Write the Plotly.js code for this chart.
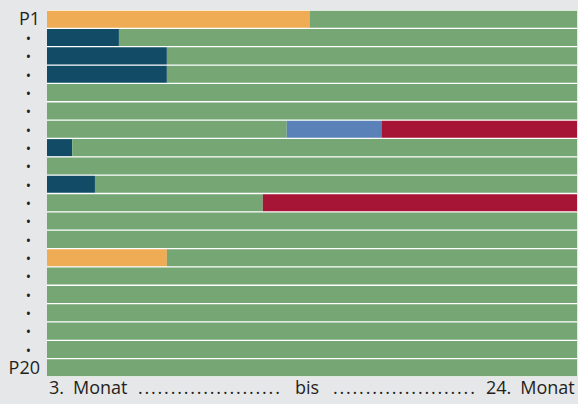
<!DOCTYPE html>
<html><head><meta charset="utf-8">
<script src="https://cdn.plot.ly/plotly-3.0.1.min.js"></script>
<style>html,body{margin:0;padding:0;background:#e6e7e9;}</style>
</head><body><div id="chart" style="width:578px;height:404px;"></div>
<script>
// Rows (persons) top to bottom
const rows = ['P1','P2','P3','P4','P5','P6','P7','P8','P9','P10','P11','P12','P13','P14','P15','P16','P17','P18','P19','P20'];
const rowLabels = ['P1','•','•','•','•','•','•','•','•','•','•','•','•','•','•','•','•','•','•','P20'];
// Axis span in months
const startMonth = 3;
const endMonth = 24;
// Phase durations in months for each row (left to right)
const orange    = [10.4,0,0,0,0,0,0,0,0,0,0,0,0,4.75,0,0,0,0,0,0];
const teal      = [0,2.85,4.75,4.75,0,0,0,1.0,0,1.9,0,0,0,0,0,0,0,0,0,0];
const greenLead = [0,0,0,0,0,0,9.5,0,0,0,8.55,0,0,0,0,0,0,0,0,0];
const blue      = [0,0,0,0,0,0,3.75,0,0,0,0,0,0,0,0,0,0,0,0,0];
const red       = [0,0,0,0,0,0,7.75,0,0,0,12.45,0,0,0,0,0,0,0,0,0];
const greenTail = [10.6,18.15,16.25,16.25,21,21,0,20,21,19.1,0,21,21,16.25,21,21,21,21,21,21];

const C = {orange:'#f0ab55', teal:'#124b66', green:'#76a674', blue:'#5a82b8', red:'#a61535'};
const bullet = "<span style='font-size:14px'>•</span>\u2002";

const phases = [[orange,C.orange],[teal,C.teal],[greenLead,C.green],[blue,C.blue],[red,C.red],[greenTail,C.green]];
const running = rows.map(() => startMonth);
const data = phases.map(([vals, color]) => {
  const base = running.slice();
  vals.forEach((v, i) => { running[i] += v; });
  return {type:'bar', orientation:'h', y:rows, x:vals, base:base,
    marker:{color:color, line:{width:0}}, hoverinfo:'skip', showlegend:false};
});
const font = {family:'"Open Sans", "DejaVu Sans", sans-serif', size:18, color:'#231f20'};
const dots = '.\u200a.\u200a.\u200a.\u200a.\u200a.\u200a.\u200a.\u200a.\u200a.\u200a.\u200a.\u200a.\u200a.\u200a.\u200a.\u200a.\u200a.\u200a.\u200a.\u200a.\u200a.';
const layout = {
  width:578, height:404,
  paper_bgcolor:'#e6e7e9', plot_bgcolor:'#ffffff',
  margin:{l:47, r:1, t:10, b:27, pad:0},
  barmode:'overlay', bargap:0.07,
  font: font,
  xaxis:{range:[startMonth,endMonth], showticklabels:false, showgrid:false, zeroline:false, ticks:'', showline:false, fixedrange:true},
  yaxis:{type:'category', autorange:'reversed', tickvals:rows,
    ticktext: rowLabels.map(t => t === '•' ? bullet : t),
    ticks:'', showgrid:false, zeroline:false, showline:false, ticklabelstandoff:6, tickfont:font, fixedrange:true},
  annotations:[
    {xref:'paper', yref:'paper', x:0, y:0, yshift:4, xanchor:'left', yanchor:'top', text:'3.\u2002Monat', showarrow:false, font:font},
    {xref:'paper', yref:'paper', x:0.306, y:0, yshift:4, xanchor:'center', yanchor:'top', text:dots, showarrow:false, font:font},
    {xref:'paper', yref:'paper', x:0.49, y:0, yshift:4, xanchor:'center', yanchor:'top', text:'bis', showarrow:false, font:font},
    {xref:'paper', yref:'paper', x:0.674, y:0, yshift:4, xanchor:'center', yanchor:'top', text:dots, showarrow:false, font:font},
    {xref:'paper', yref:'paper', x:1, y:0, yshift:4, xanchor:'right', yanchor:'top', text:'24.\u2002Monat', showarrow:false, font:font}
  ]
};
Plotly.newPlot('chart', data, layout, {displayModeBar:false, staticPlot:true});
</script></body></html>
